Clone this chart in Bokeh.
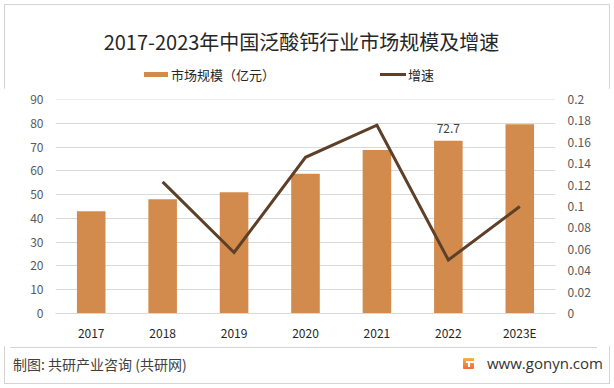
from bokeh.plotting import figure
from bokeh.layouts import column
from bokeh.models import (FactorRange, Range1d, LinearAxis, FixedTicker, CustomJSTickFormatter,
                          ColumnDataSource, Div)
from bokeh.core.properties import value
from bokeh.embed import file_html
from bokeh.resources import INLINE

# ---- data ----
years = ["2017", "2018", "2019", "2020", "2021", "2022", "2023E"]
market_size = [43.0, 48.0, 51.0, 58.8, 68.8, 72.7, 79.6]
growth_years = ["2018", "2019", "2020", "2021", "2022", "2023E"]
growth_rate = [0.123, 0.057, 0.146, 0.176, 0.050, 0.100]
left_ticks = [0, 10, 20, 30, 40, 50, 60, 70, 80, 90]
right_ticks = [0, 0.02, 0.04, 0.06, 0.08, 0.1, 0.12, 0.14, 0.16, 0.18, 0.2]
label_year = ["2022"]
label_value = [72.7]
label_text = ["72.7"]

title_text = "2017-2023年中国泛酸钙行业市场规模及增速"
bar_name = "市场规模（亿元）"
line_name = "增速"
source_text = "制图: 共研产业咨询 (共研网)"
site_text = "www.gonyn.com"

BAR = "#D38B4D"
LINE = "#5E4029"
GRID = "#D9D9D9"
CJK = "Noto Sans CJK SC"

# ---- header (title + legend) ----
top_html = f"""
<div style="position:relative;width:614px;height:88px;font-family:'{CJK}';">
  <div style="position:absolute;left:0;top:30px;width:603px;text-align:center;font-size:20px;line-height:24px;color:#262626;white-space:nowrap;">{title_text}</div>
  <div style="position:absolute;left:144px;top:72px;width:24px;height:5px;background:{BAR};"></div>
  <div style="position:absolute;left:171px;top:67px;font-size:13px;line-height:16px;color:#262626;white-space:nowrap;">{bar_name}</div>
  <div style="position:absolute;left:380px;top:73px;width:26px;height:3px;background:{LINE};"></div>
  <div style="position:absolute;left:408px;top:67px;font-size:13px;line-height:16px;color:#262626;white-space:nowrap;">{line_name}</div>
</div>
"""
header = Div(text=top_html, width=614, height=88, margin=0)

# ---- chart ----
p = figure(width=614, height=258, output_backend="svg", toolbar_location=None,
           x_range=FactorRange(factors=years, range_padding=0),
           y_range=Range1d(0, 90), margin=0,
           min_border_left=55, min_border_right=59, min_border_top=11, min_border_bottom=33)
p.extra_y_ranges = {"g": Range1d(0, 0.2)}
p.outline_line_color = None
p.xgrid.grid_line_color = None
p.ygrid.grid_line_color = None

p.hspan(y=left_ticks, line_color=GRID, line_width=1)
p.vbar(x=years, top=market_size, width=0.4, color=BAR, line_color=None)
p.line(x=growth_years, y=growth_rate, y_range_name="g", line_color=LINE, line_width=3,
       line_join="miter")

src = ColumnDataSource(dict(x=label_year, y=label_value, t=label_text))
p.text(x="x", y="y", text="t", source=src, text_align="center", text_baseline="middle",
       y_offset=-12, text_font=value(CJK), text_font_size="12px", text_color="#404040")

la = p.yaxis[0]
la.ticker = FixedTicker(ticks=left_ticks)
la.axis_line_color = None
la.major_tick_line_color = None
la.minor_tick_line_color = None
la.major_tick_out = 0
la.major_label_standoff = 12
la.major_label_text_font = CJK
la.major_label_text_font_size = "12px"
la.major_label_text_color = "#595959"

ra = LinearAxis(y_range_name="g", ticker=FixedTicker(ticks=right_ticks),
                formatter=CustomJSTickFormatter(code="return String(tick);"))
ra.axis_line_color = None
ra.major_tick_line_color = None
ra.minor_tick_line_color = None
ra.major_tick_out = 0
ra.major_label_standoff = 12
ra.major_label_text_font = CJK
ra.major_label_text_font_size = "12px"
ra.major_label_text_color = "#595959"
p.add_layout(ra, "right")

xa = p.xaxis[0]
xa.axis_line_color = GRID
xa.major_tick_line_color = None
xa.minor_tick_line_color = None
xa.major_tick_out = 0
xa.major_label_standoff = 10
xa.major_label_text_font = CJK
xa.major_label_text_font_size = "12px"
xa.major_label_text_color = "#262626"

# ---- footer ----
foot_html = f"""
<div style="position:relative;width:614px;height:42px;font-family:'{CJK}';">
  <div style="position:absolute;left:10px;top:1px;width:587px;height:1px;background:#D4D4D4;"></div>
  <div style="position:absolute;left:13px;top:8px;font-size:14px;line-height:20px;color:#404040;white-space:nowrap;">{source_text}</div>
  <div style="position:absolute;left:463px;top:12px;width:11px;height:11px;border-radius:1px;background:linear-gradient(#F9B04E,#EE6B3B);"></div>
  <div style="position:absolute;left:466px;top:15px;width:8px;height:2px;background:#FFFFFF;"></div>
  <div style="position:absolute;left:468px;top:17px;width:2px;height:4px;background:#FFFFFF;"></div>
  <div style="position:absolute;left:487px;top:7px;font-family:'Open Sans';font-size:15px;line-height:20px;color:#333333;white-space:nowrap;">{site_text}</div>
</div>
"""
footer = Div(text=foot_html, width=614, height=42, margin=0)

layout = column(header, p, footer, spacing=0,
                styles={"outline": "1px solid #D4D4D4", "outline-offset": "-5px"})

open("out.html", "w").write(file_html(layout, INLINE))
